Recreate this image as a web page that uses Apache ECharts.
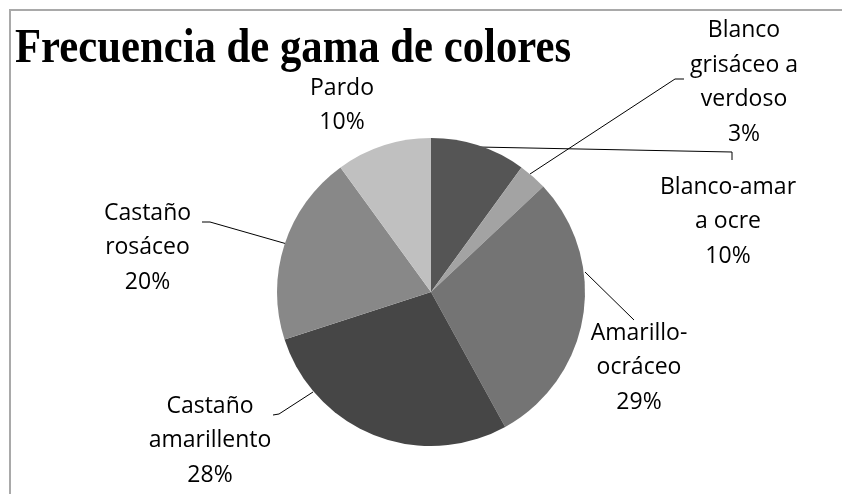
<!DOCTYPE html>
<html>
<head>
<meta charset="utf-8">
<script src="https://cdn.jsdelivr.net/npm/echarts@6/dist/echarts.min.js"></script>
<style>
html,body{margin:0;padding:0;background:#fff;}
#chart{width:842px;height:494px;}
</style>
</head>
<body>
<div id="chart"></div>
<script>
// ---- data ----
var titleText = 'Frecuencia de gama de colores';
var categories = ['Blanco-amar a ocre', 'Blanco grisáceo a verdoso', 'Amarillo-ocráceo', 'Castaño amarillento', 'Castaño rosáceo', 'Pardo'];
var labelNames = ['Blanco-amar\na ocre', 'Blanco\ngrisáceo a\nverdoso', 'Amarillo-\nocráceo', 'Castaño\namarillento', 'Castaño\nrosáceo', 'Pardo'];
var values = [10, 3, 29, 28, 20, 10];

// ---- styles / positions ----
var sliceColors = ['#555555', '#a3a3a3', '#747474', '#464646', '#888888', '#c0c0c0'];
var labelPos = [
  {x: 728, y: 221.5},
  {x: 744, y: 82.5},
  {x: 639, y: 367.5},
  {x: 210, y: 440.5},
  {x: 147.5, y: 247.5},
  {x: 342, y: 105.5}
];
var leaderLines = [
  [[478, 147], [732, 152], [732, 160]],
  [[530, 174], [675, 79], [684, 79]],
  [[585, 272], [634, 320]],
  [[313, 392], [279, 414], [273, 415]],
  [[287, 244], [210, 222], [202, 222]],
  null
];

var data = categories.map(function (c, i) {
  var item = {
    name: c,
    value: values[i],
    itemStyle: {color: sliceColors[i]}
  };
  if (!leaderLines[i]) item.labelLine = {show: false};
  return item;
});

var chart = echarts.init(document.getElementById('chart'), null, {renderer: 'canvas'});
chart.setOption({
  animation: false,
  graphic: [
    {
      type: 'rect',
      shape: {x: 10, y: 10, width: 900, height: 600},
      style: {fill: 'none', stroke: '#a9a9a9', lineWidth: 2},
      silent: true
    },
    {
      type: 'text',
      x: 15,
      y: 50,
      scaleX: 0.89,
      style: {
        text: titleText,
        font: 'bold 48px "Liberation Serif", "Times New Roman", serif',
        fill: '#000',
        textAlign: 'left',
        textVerticalAlign: 'middle'
      },
      silent: true
    }
  ],
  series: [{
    type: 'pie',
    center: [431, 292],
    radius: 154,
    startAngle: 90,
    clockwise: true,
    avoidLabelOverlap: false,
    percentPrecision: 0,
    data: data,
    itemStyle: {borderWidth: 0},
    emphasis: {disabled: true},
    label: {
      show: true,
      position: 'outside',
      formatter: function (p) {
        return labelNames[p.dataIndex] + '\n' + p.percent + '%';
      },
      fontFamily: '"Open Sans", sans-serif',
      fontSize: 23,
      lineHeight: 34.5,
      color: '#000',
      align: 'center'
    },
    labelLine: {
      show: true,
      length: 10,
      length2: 10,
      lineStyle: {color: '#000', width: 1}
    },
    labelLayout: function (params) {
      var i = params.dataIndex;
      var o = {
        x: labelPos[i].x,
        y: labelPos[i].y,
        align: 'center',
        verticalAlign: 'middle'
      };
      if (leaderLines[i]) o.labelLinePoints = leaderLines[i];
      return o;
    }
  }]
});
</script>
</body>
</html>
